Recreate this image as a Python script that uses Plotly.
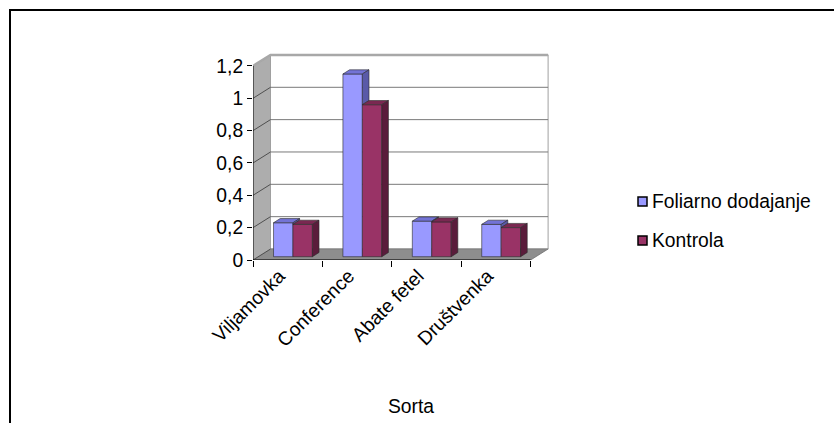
import plotly.graph_objects as go

# ---- data -------------------------------------------------------------
categories = ["Viljamovka", "Conference", "Abate fetel", "Društvenka"]
series_names = ["Foliarno dodajanje", "Kontrola"]
foliarno = [0.21, 1.13, 0.22, 0.20]
kontrola = [0.20, 0.94, 0.215, 0.18]
y_ticks = [0, 0.2, 0.4, 0.6, 0.8, 1.0, 1.2]
x_title = "Sorta"

# ---- styling ----------------------------------------------------------
front_colors = ["#9999FF", "#993366"]
top_colors = ["#7373d6", "#7a2851"]
side_colors = ["#5a5aa8", "#5a1c3b"]
FONT = "Liberation Sans, Arial, sans-serif"
FS = 19.3
LABEL_SHIFT = -0.12              # rotated category labels sit a little left of centre

# ---- pixel geometry of the pseudo-3D plot box --------------------------
W, H = 834, 423
X0_PX, Y0_PX = 253, 260          # front-left corner of the floor
CAT_PX = 69.4                    # width of one category
UNIT_PX = 161.7                  # height of one value unit
DEPTH_PX = (17.5, 11.0)          # wall depth offset (right, up)
ML, MT = X0_PX, 48
MR = W - 556
MB = H - Y0_PX
PW = W - ML - MR
PH = H - MT - MB

n = len(categories)
x_lo, x_hi = -0.5, -0.5 + PW / CAT_PX
y_lo, y_hi = 0.0, PH / UNIT_PX
ox = DEPTH_PX[0] / CAT_PX
oy = DEPTH_PX[1] / UNIT_PX
xl, xr = -0.5, n - 0.5
ymax = y_ticks[-1]

BAR_W = 0.28
F0, F1 = 0.30, 0.68              # bar front / back depth fractions
base = F0 * oy
bdx, bdy = (F1 - F0) * ox, (F1 - F0) * oy


def px_x(p):
    return (p - ML) / PW


def px_y(p):
    return 1 - (p - MT) / PH


def poly(points):
    return "M" + " L".join(f"{x},{y}" for x, y in points) + " Z"


shapes = []
# floor
shapes.append(dict(type="path", layer="below",
                   path=poly([(xl, 0), (xr, 0), (xr + ox, oy), (xl + ox, oy)]),
                   fillcolor="#8e8e8e", line=dict(color="#6e6e6e", width=0.8)))
# left wall
shapes.append(dict(type="path", layer="below",
                   path=poly([(xl, 0), (xl + ox, oy), (xl + ox, ymax + oy), (xl, ymax)]),
                   fillcolor="#adadad", line=dict(width=0)))
# back wall
shapes.append(dict(type="rect", layer="below",
                   x0=xl + ox, y0=oy, x1=xr + ox, y1=ymax + oy,
                   fillcolor="white", line=dict(color="#a0a0a0", width=1)))
# gridlines on back wall and left wall
for v in y_ticks:
    shapes.append(dict(type="line", layer="below",
                       x0=xl + ox, y0=v + oy, x1=xr + ox, y1=v + oy,
                       line=dict(color="#7a7a7a", width=1)))
    shapes.append(dict(type="line", layer="below",
                       x0=xl, y0=v, x1=xl + ox, y1=v + oy,
                       line=dict(color="#4f4f4f", width=1)))
# top rim of the walls
shapes.append(dict(type="path", layer="below",
                   path=f"M{xl},{ymax} L{xl + ox},{ymax + oy} L{xr + ox},{ymax + oy}",
                   line=dict(color="#a8a8a8", width=2.5)))
# front axis lines
shapes.append(dict(type="line", layer="below", x0=xl, y0=0, x1=xl, y1=ymax,
                   line=dict(color="black", width=1)))
shapes.append(dict(type="line", layer="below", x0=xl, y0=0, x1=xr, y1=0,
                   line=dict(color="black", width=1)))

fig = go.Figure()
series = [foliarno, kontrola]
for s, vals in enumerate(series):
    xs = [i + F0 * ox + (s - 0.5) * BAR_W for i in range(n)]
    fig.add_trace(go.Bar(
        x=xs, y=vals, base=base, width=BAR_W, name=series_names[s],
        marker=dict(color=front_colors[s], line=dict(color="#2a2a2a", width=0.6)),
        showlegend=False, hoverinfo="skip"))
    for i, v in enumerate(vals):
        x_left, x_right = xs[i] - BAR_W / 2, xs[i] + BAR_W / 2
        top = base + v
        # top face
        shapes.append(dict(type="path", layer="above",
                           path=poly([(x_left, top), (x_right, top),
                                      (x_right + bdx, top + bdy), (x_left + bdx, top + bdy)]),
                           fillcolor=top_colors[s], line=dict(color="#2a2a2a", width=0.6)))
        # side face: only the part not hidden by the neighbouring bar
        low = base
        if s + 1 < len(series):
            low = base + series[s + 1][i]
        if top > low:
            shapes.append(dict(type="path", layer="above",
                               path=poly([(x_right, low), (x_right + bdx, low + bdy),
                                          (x_right + bdx, top + bdy), (x_right, top)]),
                               fillcolor=side_colors[s], line=dict(color="#2a2a2a", width=0.6)))

# legend keys
legend_rows = [201.5, 240.5]
annotations = []
for s, name in enumerate(series_names):
    cy = legend_rows[s]
    shapes.append(dict(type="rect", xref="paper", yref="paper",
                       x0=px_x(638), x1=px_x(647), y0=px_y(cy + 4.5), y1=px_y(cy - 4.5),
                       fillcolor=front_colors[s], line=dict(color="black", width=1.5)))
    annotations.append(dict(xref="paper", yref="paper", x=px_x(650), y=px_y(cy),
                            text=name, showarrow=False, xanchor="left", yanchor="middle",
                            font=dict(family=FONT, size=FS, color="black")))

# axis title
annotations.append(dict(xref="paper", yref="paper", x=px_x(411), y=px_y(406),
                        text=x_title, showarrow=False, xanchor="center", yanchor="middle",
                        font=dict(family=FONT, size=FS, color="black")))

# outer chart frame
shapes.append(dict(type="path", xref="paper", yref="paper",
                   path=f"M{px_x(10)},{px_y(440)} L{px_x(10)},{px_y(10)} L{px_x(850)},{px_y(10)}",
                   line=dict(color="black", width=2)))

fig.update_layout(
    width=W, height=H,
    margin=dict(l=ML, r=MR, t=MT, b=MB, pad=0),
    paper_bgcolor="white", plot_bgcolor="white",
    font=dict(family=FONT, size=FS, color="black"),
    separators=", ",
    barmode="overlay",
    showlegend=False,
    shapes=shapes,
    annotations=annotations,
    xaxis=dict(range=[x_lo, x_hi], tickmode="array",
               tickvals=[i + LABEL_SHIFT for i in range(n)],
               ticktext=categories, ticks="", tickangle=-45,
               showgrid=False, zeroline=False, showline=False,
               minor=dict(tickmode="array", tickvals=[i - 0.5 for i in range(n + 1)],
                          ticks="outside", ticklen=6, tickwidth=1, tickcolor="black",
                          showgrid=False)),
    yaxis=dict(range=[y_lo, y_hi], tickmode="array", tickvals=y_ticks,
               ticks="outside", ticklen=5, tickwidth=1, tickcolor="black",
               showgrid=False, zeroline=False, showline=False),
)

fig.write_html("out.html")
